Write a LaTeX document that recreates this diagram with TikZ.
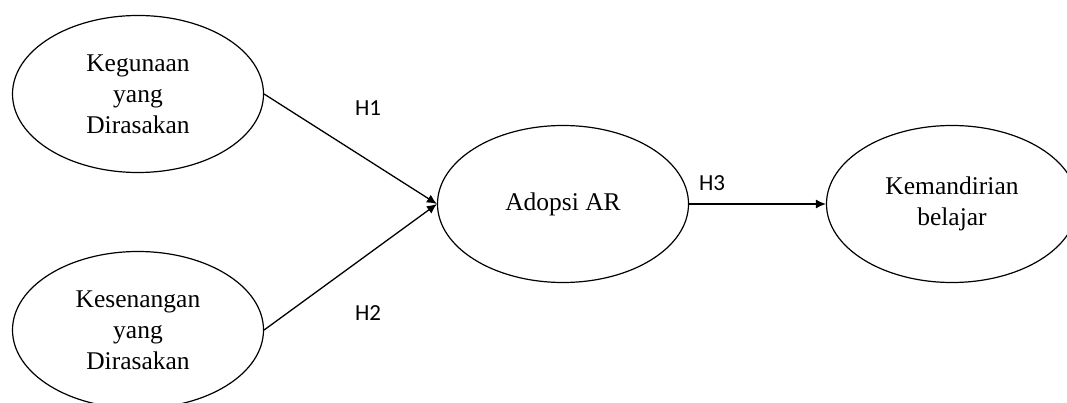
\documentclass[tikz,border=0pt]{standalone}
\usepackage{fontspec}
\setmainfont{Liberation Serif}
\newfontfamily\hfont{Carlito}
\usepackage{tikz}
\usetikzlibrary{arrows.meta,shapes.geometric}
\usetikzlibrary{positioning}

\begin{document}
\begin{tikzpicture}[x=1pt,y=-1pt,
        var/.style={draw,ellipse,line width=1.2pt,inner sep=0pt,
            minimum width=251pt,minimum height=157pt,align=center,
            font=\fontsize{25.5}{31}\selectfont},
        hyp/.style={font=\hfont\fontsize{23}{26}\selectfont},
        path/.style={-{Latex[length=10pt,width=9pt]},line width=1.3pt}]
    \clip (0,0) rectangle (1067,403);
    \node[var] (kg) at (138,94) {Kegunaan\\yang\\Dirasakan};
    \node[var] (ks) at (138,330) {Kesenangan\\yang\\Dirasakan};
    \node[var] (ar) at (563,204) {Adopsi AR};
    \node[var] (km) at (952,204) {Kemandirian\\belajar};
    \draw[path] (kg.east) -- (ar.west);
    \draw[path] (ks.east) -- (ar.west);
    \draw[path] (ar.east) -- (km.west);
    \node[hyp] (h1) at (368,108) {H1};
    \node[hyp] (h2) at (368,313) {H2};
    \node[hyp] (h3) at (712,183) {H3};
\end{tikzpicture}
\end{document}
